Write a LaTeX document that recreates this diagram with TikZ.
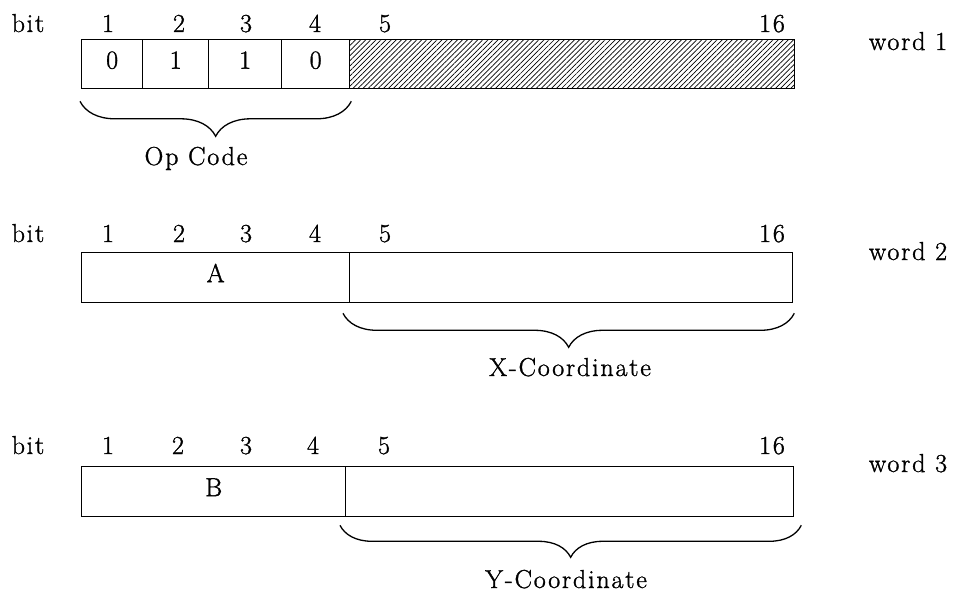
\documentclass[tikz,border=0pt]{standalone}
\usepackage{fontspec}
\setmainfont{Latin Modern Roman}[LetterSpace=7, FakeBold=1.2]
\usetikzlibrary{patterns.meta,decorations.pathreplacing}

\tikzset{
  cell/.style={draw, anchor=north west, minimum height=49pt, inner sep=0pt,
    text height=17pt, text depth=8pt},
  txt/.style={anchor=base, inner sep=0pt},
  hatch/.style={pattern={Lines[angle=45, distance=3.6pt, line width=0.7pt]}},
  brc/.style={decorate, decoration={brace, mirror, amplitude=#1}}
}

\begin{document}
\begin{tikzpicture}[x=1pt, y=-1pt, line width=1.3pt, font=\fontsize{26}{30}\selectfont]
  \useasboundingbox (0,0) rectangle (959,594);

  % Palabra 1
  \node[txt] (bit1) at (28,32) {bit};
  \node[txt] (n11) at (108,32) {1};
  \node[txt] (n12) at (179,32) {2};
  \node[txt] (n13) at (246,32) {3};
  \node[txt] (n14) at (315,32) {4};
  \node[txt] (n15) at (385,32) {5};
  \node[txt] (n116) at (772,32) {16};
  \node[cell, minimum width=61pt] (w1c1) at (81,39) {0};
  \node[cell, minimum width=66pt] (w1c2) at (142,39) {1};
  \node[cell, minimum width=73pt] (w1c3) at (208,39) {1};
  \node[cell, minimum width=68pt] (w1c4) at (281,39) {0};
  \node[cell, hatch, minimum width=445pt] (w1r) at (349,39) {};
  \node[txt] (word1) at (908,50) {word 1};

  % Llave del codigo de operacion
  \draw[brc=35pt] ([xshift=-1pt, yshift=-12pt]w1c1.south west) -- ([xshift=1pt, yshift=-12pt]w1c4.south east);
  \node[txt] (opcode) at (196,165) {Op Code};

  % Palabra 2
  \node[txt] (bit2) at (28,242) {bit};
  \node[txt] (n21) at (108,242) {1};
  \node[txt] (n22) at (179,242) {2};
  \node[txt] (n23) at (246,242) {3};
  \node[txt] (n24) at (315,242) {4};
  \node[txt] (n25) at (385,242) {5};
  \node[txt] (n216) at (772,242) {16};
  \node[cell, minimum width=268pt, minimum height=50pt] (w2l) at (81,252) {A};
  \node[cell, minimum width=443pt, minimum height=50pt] (w2r) at (349,252) {};
  \node[txt] (word2) at (908,260) {word 2};

  % Llave de la coordenada X
  \draw[brc=34pt] ([xshift=-6pt, yshift=-10pt]w2r.south west) -- ([xshift=1pt, yshift=-10pt]w2r.south east);
  \node[txt] (xcoord) at (570,376) {X-Coordinate};

  % Palabra 3
  \node[txt] (bit3) at (28,454) {bit};
  \node[txt] (n31) at (108,454) {1};
  \node[txt] (n32) at (178,454) {2};
  \node[txt] (n33) at (246,454) {3};
  \node[txt] (n34) at (313,454) {4};
  \node[txt] (n35) at (384,454) {5};
  \node[txt] (n316) at (772,454) {16};
  \node[cell, minimum width=264pt, minimum height=50pt] (w3l) at (81,466) {B};
  \node[cell, minimum width=448pt, minimum height=50pt] (w3r) at (345,466) {};
  \node[txt] (word3) at (908,472) {word 3};

  % Llave de la coordenada Y
  \draw[brc=32pt] ([xshift=-5pt, yshift=-8pt]w3r.south west) -- ([xshift=7pt, yshift=-8pt]w3r.south east);
  \node[txt] (ycoord) at (566,588) {Y-Coordinate};
\end{tikzpicture}
\end{document}
